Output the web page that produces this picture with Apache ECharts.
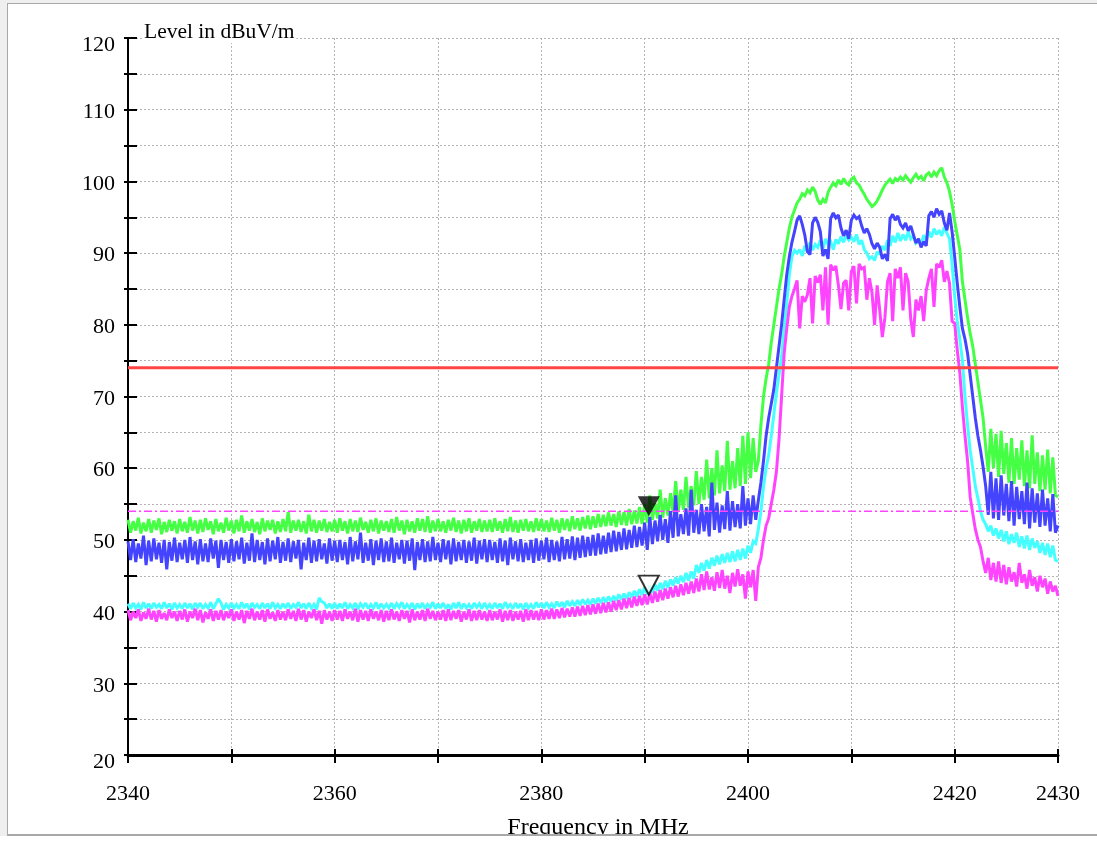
<!DOCTYPE html>
<html><head><meta charset="utf-8">
<script src="https://cdn.jsdelivr.net/npm/echarts@6/dist/echarts.min.js"></script>
<style>html,body{margin:0;padding:0;background:#fff}#c{width:1097px;height:843px}</style>
</head><body><div id="c"></div>
<script>
// Sweep: 2340 MHz to 2430 MHz in 0.25 MHz steps (361 samples per trace)
const freqStart = 2340, freqStep = 0.25;

const traceGreen = [
52.8,51.0,52.6,51.3,53.1,50.9,52.4,51.2,52.9,51.0,52.7,51.4,53.0,50.8,52.5,51.1,52.8,51.3,52.6,50.9,
52.9,51.2,52.5,51.0,53.2,51.3,52.7,50.9,52.8,51.1,53.0,51.4,52.6,50.8,52.9,51.2,52.4,51.0,53.1,51.3,
52.7,50.9,52.8,51.2,53.4,51.0,52.6,51.3,52.9,51.1,52.5,50.8,53.0,51.2,52.7,51.4,52.8,50.9,52.6,51.1,
52.9,51.2,53.9,51.0,52.7,51.3,52.8,51.1,52.6,50.9,53.5,51.2,52.8,51.0,52.7,51.3,52.9,51.1,52.5,51.2,
52.8,51.0,53.0,51.3,52.6,50.9,52.9,51.2,52.7,51.1,53.1,51.4,52.5,51.0,52.8,51.2,53.0,50.9,52.7,51.3,
52.6,51.1,52.9,51.0,53.2,51.3,52.7,50.8,52.8,51.2,52.6,51.0,53.0,51.3,52.9,51.1,53.3,51.0,52.7,51.2,
52.9,51.2,52.6,51.0,52.8,51.3,53.1,51.1,52.7,50.9,52.8,51.2,53.0,51.0,52.6,51.3,52.9,51.1,52.7,51.2,
52.8,51.1,53.0,51.3,52.6,51.0,52.9,51.2,53.2,51.1,52.7,51.0,52.8,51.3,52.9,51.2,52.6,51.1,53.0,51.3,
52.9,51.2,52.7,51.1,53.1,51.3,52.8,51.0,53.0,51.4,52.9,51.2,53.3,51.5,53.0,51.3,53.2,51.6,53.4,51.5,
53.3,51.7,53.6,51.8,53.5,51.9,53.8,52.0,53.6,51.8,54.0,52.1,53.9,52.0,54.3,52.2,54.1,52.3,54.6,52.2,
55.0,52.4,56.2,52.8,55.1,53.0,57.0,53.1,55.8,53.4,56.5,53.8,58.2,54.0,57.0,54.2,58.8,54.5,57.5,54.8,
59.6,55.0,58.8,55.6,61.2,55.8,60.0,56.2,62.5,56.5,60.4,56.8,63.8,57.0,61.0,57.2,62.8,57.5,64.5,57.8,
65.0,58.6,64.2,59.5,61.0,66.0,70.0,72.5,74.5,77.5,80.0,82.5,85.0,87.0,89.5,91.5,93.5,95.0,96.0,97.0,
97.5,98.3,98.0,98.8,98.4,99.2,98.6,97.4,96.8,97.5,97.0,98.5,99.2,99.8,99.4,100.2,99.6,100.4,99.8,99.5,
100.3,100.6,99.8,99.5,98.8,98.2,97.5,97.0,96.5,96.8,97.3,98.0,98.8,99.5,99.9,100.3,99.7,100.4,100.1,100.6,
100.2,100.8,100.3,99.9,100.5,101.0,100.4,100.7,100.1,100.9,101.2,100.6,101.3,100.8,101.5,101.9,100.6,99.8,98.6,96.8,
94.5,92.5,90.5,86.0,83.5,81.0,78.8,77.0,74.5,72.0,69.5,67.0,63.0,59.5,65.5,60.0,64.8,58.8,65.2,59.2,
63.5,58.0,64.2,57.8,62.8,58.4,63.9,57.5,62.5,57.2,64.6,57.8,62.2,56.8,61.8,57.0,62.6,56.5,61.5,56.2,
56.0];

const traceBlue = [
49.8,47.2,50.1,46.9,49.5,47.4,50.6,46.5,49.9,47.0,50.2,47.3,49.6,46.8,50.0,45.9,49.7,47.1,50.3,46.9,
49.6,47.3,50.0,46.8,50.4,47.2,49.8,46.6,50.1,47.0,49.5,46.9,50.2,47.4,49.9,46.1,50.0,47.2,49.7,46.8,
50.1,47.0,49.8,47.3,50.3,46.7,49.6,47.1,50.9,46.9,50.0,47.2,49.7,46.6,50.2,47.0,49.9,47.3,50.4,46.8,
49.7,47.1,50.2,46.9,49.8,47.4,50.0,45.9,49.6,47.2,50.3,46.8,49.9,47.0,50.1,47.3,49.5,46.7,50.2,47.1,
49.9,46.9,50.0,47.2,49.7,46.6,50.4,47.0,49.8,47.3,51.0,46.8,49.6,47.1,50.1,46.5,49.9,47.2,50.2,46.9,
49.8,47.0,50.3,46.8,49.6,47.3,50.0,46.7,49.9,47.1,50.2,45.8,49.7,47.2,50.1,46.9,49.8,47.0,50.4,47.2,
49.6,46.9,50.1,47.3,49.9,46.6,50.2,47.0,49.7,47.2,50.0,46.8,49.8,47.1,50.3,46.7,49.9,47.3,50.1,46.9,
50.0,47.2,49.7,46.8,50.2,47.0,49.9,46.5,50.3,47.3,49.8,47.0,50.1,46.9,49.6,47.2,50.0,46.8,50.2,47.1,
49.9,47.3,50.3,46.9,50.0,47.2,49.8,47.0,50.4,47.3,50.1,47.4,50.5,47.2,50.3,47.5,50.6,47.6,50.4,47.8,
50.7,47.8,50.9,48.0,50.6,48.1,51.0,48.3,51.3,48.4,51.1,48.6,51.6,48.7,51.4,48.9,52.0,49.0,51.8,49.2,
52.4,48.6,53.2,49.4,52.7,49.8,53.5,50.0,52.9,49.6,54.0,50.3,56.2,50.5,53.6,50.8,54.4,50.6,57.0,51.0,
54.2,50.8,55.0,51.2,54.6,50.5,58.0,51.4,55.2,51.0,54.8,51.5,56.8,51.3,55.4,51.8,55.0,51.6,57.5,52.0,
55.8,52.2,56.2,52.8,55.5,58.0,61.0,64.5,67.0,69.0,71.0,74.0,77.0,80.0,83.5,87.0,89.5,91.5,93.0,94.6,
95.2,94.0,92.5,90.2,89.8,94.2,95.0,94.3,93.0,89.6,90.5,89.2,94.8,95.6,94.9,95.3,93.5,92.4,93.2,92.0,
94.6,95.3,94.8,95.1,93.8,92.8,93.4,92.6,91.3,90.6,91.4,90.8,89.2,89.8,88.9,94.8,95.4,94.6,95.2,94.0,
93.5,94.2,93.1,93.8,92.6,91.4,92.0,90.8,91.6,91.0,95.2,95.8,95.0,96.2,95.4,95.9,94.2,93.2,95.6,93.0,
89.5,85.8,82.5,79.5,78.0,76.0,73.0,70.0,67.0,64.5,62.5,60.2,57.5,53.5,59.5,53.0,58.6,52.8,59.0,53.4,
57.8,52.6,58.2,52.0,57.4,52.9,56.8,52.2,58.0,51.6,57.2,52.4,56.5,51.8,57.0,52.0,55.8,51.2,56.4,51.0,
52.0];

const traceCyan = [
41.1,40.4,41.2,40.5,41.0,40.3,41.3,40.5,41.1,40.4,41.2,40.6,41.0,40.4,41.3,40.5,41.1,40.3,41.2,40.5,
41.0,40.4,41.2,40.5,41.1,40.3,41.2,40.6,41.2,40.4,41.0,40.5,41.3,40.4,41.1,41.8,41.2,40.3,41.0,40.5,
41.2,40.5,41.0,40.4,41.3,40.5,41.1,40.3,41.2,40.6,41.0,40.4,41.2,40.5,41.1,40.4,41.3,40.5,41.0,40.4,
41.1,40.5,41.2,40.4,41.0,40.6,41.3,40.5,41.1,40.4,41.2,40.5,41.0,40.3,41.9,41.4,41.2,40.5,41.1,40.4,
41.2,40.4,41.1,40.5,41.3,40.4,41.0,40.5,41.2,40.3,41.1,40.6,41.2,40.4,41.0,40.5,41.3,40.4,41.1,40.5,
41.0,40.5,41.2,40.4,41.1,40.6,41.3,40.4,41.0,40.5,41.2,40.3,41.1,40.5,41.2,40.4,41.0,40.6,41.3,40.4,
41.1,40.5,41.2,40.4,41.0,40.3,41.2,40.5,41.3,40.4,41.1,40.5,41.0,40.4,41.2,40.6,41.1,40.4,41.2,40.5,
41.0,40.4,41.2,40.5,41.1,40.4,41.3,40.6,41.0,40.4,41.2,40.5,41.1,40.3,41.2,40.5,41.0,40.4,41.3,40.6,
41.2,40.5,41.3,40.6,41.1,40.5,41.4,40.7,41.3,40.6,41.5,40.8,41.4,40.8,41.6,40.9,41.7,41.0,41.6,41.0,
41.8,41.1,41.9,41.2,42.0,41.3,42.1,41.4,42.2,41.5,42.4,41.7,42.5,41.8,42.7,42.0,42.9,42.1,43.1,42.3,
43.4,42.4,43.6,42.6,43.8,42.9,44.0,43.1,44.3,43.3,44.5,43.6,44.8,43.9,45.0,44.1,45.4,44.3,45.6,44.6,
46.5,45.4,46.8,45.7,47.2,46.0,47.5,46.4,47.8,46.6,48.0,46.8,48.2,46.9,48.4,47.0,48.6,47.2,48.8,47.4,
49.2,48.2,49.8,49.5,51.5,54.0,57.4,60.0,61.8,64.5,67.5,70.5,73.0,75.5,79.5,83.0,87.0,89.5,90.4,90.0,
90.5,89.6,91.0,90.2,91.5,90.4,91.2,90.8,91.8,90.6,92.0,91.2,91.6,90.5,91.9,91.3,92.3,91.5,92.5,91.8,
92.2,91.6,92.6,91.2,91.8,90.5,90.0,89.2,89.5,89.0,90.2,89.8,91.0,90.4,91.8,91.0,92.4,91.5,92.8,91.7,
92.6,91.8,93.0,92.0,92.4,91.4,91.8,91.2,92.5,91.8,93.0,92.2,93.4,92.6,93.2,92.4,93.6,92.8,92.0,88.5,
84.0,80.5,78.0,75.0,70.0,66.0,62.5,60.0,57.5,55.8,54.0,52.8,52.2,51.2,52.0,50.6,51.6,50.2,51.4,49.8,
51.2,49.4,50.8,49.6,51.0,49.0,50.5,48.8,50.6,48.6,50.2,48.9,49.8,48.2,49.6,47.9,49.5,47.6,49.2,47.2,
47.0];

const traceMagenta = [
40.2,38.8,40.0,39.1,40.3,38.7,39.9,39.0,40.4,38.9,40.1,38.6,40.2,39.0,39.8,38.8,40.3,39.1,40.0,38.7,
40.1,38.9,40.3,38.6,40.0,39.1,40.4,38.8,40.2,38.5,39.9,39.0,40.3,38.7,40.1,38.9,40.2,38.8,40.0,39.1,
40.3,38.7,40.0,38.9,40.2,38.4,40.1,39.0,40.4,38.8,40.0,38.9,40.2,38.6,40.3,39.0,39.9,38.7,40.2,38.9,
40.0,38.8,40.3,39.0,40.1,38.7,40.4,38.9,40.2,38.6,40.0,39.1,40.3,38.8,40.1,38.3,40.2,38.9,40.0,38.7,
40.2,38.9,40.1,38.7,40.3,39.0,40.0,38.8,40.4,38.6,40.2,38.9,40.1,38.7,40.3,39.0,40.0,38.8,40.2,38.6,
40.1,38.8,40.3,38.9,40.0,38.7,40.2,39.0,40.1,38.5,40.3,38.8,40.0,38.9,40.2,38.7,40.4,39.0,40.1,38.8,
40.0,38.9,40.2,38.7,40.3,38.8,40.1,39.0,40.2,38.6,40.0,38.9,40.3,38.7,40.1,38.8,40.2,38.9,40.0,38.7,
40.2,38.8,40.0,38.9,40.3,38.6,40.1,38.8,40.2,38.7,40.0,38.9,40.1,38.6,40.3,38.8,40.2,38.9,40.1,38.8,
40.3,38.9,40.2,39.0,40.4,39.0,40.3,39.1,40.5,39.2,40.4,39.3,40.6,39.3,40.7,39.4,40.8,39.5,40.9,39.6,
41.0,39.7,41.1,39.8,41.2,39.9,41.3,40.0,41.5,40.2,41.6,40.3,41.8,40.5,41.9,40.6,42.1,40.8,42.2,40.9,
42.4,41.0,42.6,41.2,42.8,41.4,43.0,41.6,43.2,41.8,43.4,42.0,43.6,42.1,43.8,42.3,44.0,42.5,44.2,42.6,
44.6,42.8,45.2,43.0,45.6,43.1,44.8,42.9,45.5,43.3,45.8,43.2,45.0,42.6,45.4,43.5,45.9,43.6,45.2,41.8,
45.6,43.4,45.8,41.5,46.2,47.5,50.0,52.0,53.0,55.0,57.0,59.5,64.0,70.0,76.0,79.5,82.5,84.0,85.0,86.2,
79.5,84.0,83.2,84.2,86.5,80.2,86.8,85.9,87.0,82.0,88.0,80.0,88.4,87.6,88.2,85.5,82.2,85.8,86.2,82.0,
87.4,88.2,83.0,88.5,87.8,88.0,83.5,86.5,84.5,80.0,85.5,82.0,78.3,81.0,86.0,87.2,80.5,87.8,86.5,88.0,
82.0,87.2,86.0,80.8,78.3,83.5,82.0,84.0,80.5,84.8,86.5,87.8,82.5,88.5,88.0,89.0,86.0,87.5,85.8,80.5,
80.2,76.5,73.3,68.5,64.5,61.0,56.0,53.7,51.5,50.0,49.0,47.0,45.4,47.5,44.4,46.8,44.2,47.0,44.0,46.5,
43.8,46.2,44.2,45.5,43.5,46.8,44.0,45.2,43.2,45.8,43.6,44.8,42.8,45.0,43.4,44.6,42.5,44.2,42.8,43.6,
42.2];

const limitPeak = 74;      // red solid line
const limitAverage = 54;   // magenta dash-dot line
const markerFreq = [2390.4, 2390.4];
const markerLevel = [53.3, 42.3];
const xTickLabels = [2340, 2360, 2380, 2400, 2420, 2430];
const yTickLabels = [20, 30, 40, 50, 60, 70, 80, 90, 100, 110, 120];

const FONT = '"Liberation Serif","Times New Roman",serif';
const toXY = arr => arr.map((v, i) => [freqStart + i * freqStep, v]);
const xMin = 2340, xMax = 2430, yMin = 20, yMax = 120;

const chart = echarts.init(document.getElementById('c'), null, {renderer: 'canvas'});

function trace(data, color) {
  return {
    type: 'line', data: toXY(data), showSymbol: false, symbol: 'none',
    sampling: null, silent: true,
    lineStyle: {color: color, width: 3, join: 'miter', miterLimit: 2},
    xAxisIndex: 0, yAxisIndex: 0, z: 2
  };
}

const option = {
  animation: false,
  backgroundColor: '#ffffff',
  grid: {left: 128, right: 39, top: 38, bottom: 88, containLabel: false},
  xAxis: [{
    type: 'value', min: xMin, max: xMax, interval: 10, position: 'bottom',
    axisLine: {onZero: false, lineStyle: {color: '#000', width: 3}},
    axisTick: {inside: true, length: 6, lineStyle: {color: '#000', width: 2}},
    axisLabel: {
      showMaxLabel: true, showMinLabel: true, margin: 28, color: '#000',
      fontFamily: FONT, fontSize: 22,
      formatter: v => xTickLabels.indexOf(v) >= 0 ? String(v) : ''
    },
    splitLine: {show: true, lineStyle: {type: [2, 2], color: '#b4b4b4', width: 1}}
  }, {
    type: 'value', min: xMin, max: xMax, interval: 10, position: 'bottom',
    axisLine: {show: false, onZero: false},
    axisTick: {inside: false, length: 8, lineStyle: {color: '#000', width: 2}},
    axisLabel: {show: false}, splitLine: {show: false}
  }],
  yAxis: [{
    type: 'value', min: yMin, max: yMax, interval: 5, position: 'left',
    axisLine: {show: true, onZero: false, lineStyle: {color: '#000', width: 2}},
    axisTick: {show: true, inside: true, length: 9, lineStyle: {color: '#000', width: 2}},
    axisLabel: {
      margin: 13, color: '#000', fontFamily: FONT, fontSize: 22,
      formatter: v => yTickLabels.indexOf(v) < 0 ? '' :
        ((v === yMin || v === yMax) ? '{e|' + v + '}' : '{n|' + v + '}'),
      rich: {
        n: {fontFamily: FONT, fontSize: 22, color: '#000', padding: [5, 0, 0, 0]},
        e: {fontFamily: FONT, fontSize: 22, color: '#000', padding: [14, 0, 0, 0]}
      }
    },
    splitLine: {show: true, lineStyle: {type: [2, 2], color: '#b4b4b4', width: 1}}
  }, {
    type: 'value', min: yMin, max: yMax, interval: 5, position: 'left',
    axisLine: {show: false, onZero: false},
    axisTick: {show: true, inside: false, length: 4, lineStyle: {color: '#000', width: 2}},
    axisLabel: {show: false}, splitLine: {show: false}
  }],
  series: [
    trace(traceGreen, '#44ff44'),
    trace(traceCyan, '#44ffff'),
    trace(traceBlue, '#4444ff'),
    trace(traceMagenta, '#ff44ff'),
    {
      type: 'line', data: [[xMin, limitPeak], [xMax, limitPeak]], showSymbol: false, symbol: 'none',
      lineStyle: {color: '#ff4444', width: 3}, z: 5, silent: true
    },
    {
      type: 'line', data: [[xMin, limitAverage], [xMax, limitAverage]], showSymbol: false, symbol: 'none',
      lineStyle: {color: '#ff44ff', width: 1.5, type: [8, 3, 2, 3]}, z: 5, silent: true
    },
    {
      type: 'scatter', data: [[markerFreq[0], markerLevel[0]]],
      symbol: 'path://M0,0L22,0L11,20Z', symbolSize: [22, 20], symbolOffset: [0, -10],
      itemStyle: {color: '#000'}, z: 10, silent: true
    },
    {
      type: 'scatter', data: [[markerFreq[1], markerLevel[1]]],
      symbol: 'path://M0,0L22,0L11,20Z', symbolSize: [20, 19], symbolOffset: [0, -10],
      itemStyle: {color: '#fff', borderColor: '#000', borderWidth: 2}, z: 10, silent: true
    }
  ],
  graphic: [
    {type: 'rect', z: 200, shape: {x: 0, y: 0, width: 1097, height: 3}, style: {fill: '#efefef'}},
    {type: 'rect', z: 200, shape: {x: 0, y: 0, width: 7, height: 836}, style: {fill: '#efefef'}},
    {type: 'text', z: 150, x: 144, y: 21,
      style: {text: 'Level in dBuV/m', font: '21.5px ' + FONT, fill: '#000',
        align: 'left', verticalAlign: 'top', backgroundColor: '#fff', padding: [0, 2, 0, 0]}},
    {type: 'text', z: 150, x: 598, y: 816,
      style: {text: 'Frequency in MHz', font: '24px ' + FONT, fill: '#000',
        align: 'center', verticalAlign: 'top'}},
    {type: 'rect', z: 180, shape: {x: 0, y: 836, width: 1097, height: 7}, style: {fill: '#fff'}},
    {type: 'rect', z: 190, shape: {x: 7, y: 3, width: 1100, height: 832},
      style: {fill: 'none', stroke: '#a8a8a8', lineWidth: 2}}
  ]
};
chart.setOption(option);
</script></body></html>
